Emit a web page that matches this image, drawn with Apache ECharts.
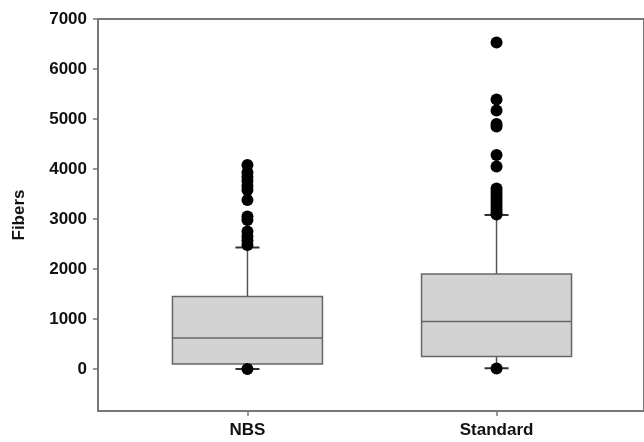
<!DOCTYPE html>
<html>
<head>
<meta charset="utf-8">
<script src="https://cdn.jsdelivr.net/npm/echarts@6/dist/echarts.min.js"></script>
<style>
  html, body { margin: 0; padding: 0; background: #fff; }
  #chart { width: 644px; height: 442px; }
</style>
</head>
<body>
<div id="chart"></div>
<script>
// data
var categories = ['NBS', 'Standard'];
var whiskerLow = [0, 15];
var q1 = [100, 250];
var median = [620, 950];
var q3 = [1450, 1900];
var whiskerHigh = [2430, 3080];
var nbsOutliers = [4080, 3930, 3840, 3760, 3660, 3580, 3380, 3050, 2980, 2750, 2650, 2570, 2480, 0];
var standardOutliers = [6530, 5390, 5170, 4900, 4850, 4280, 4050, 3610, 3540, 3480, 3420, 3360, 3300, 3240, 3180, 3120, 3090, 10];
var yTicks = [0, 1000, 2000, 3000, 4000, 5000, 6000, 7000];

var fontFamily = "'Liberation Sans', Arial, sans-serif";
var axisColor = '#777';

var dom = document.getElementById('chart');
var chart = echarts.init(dom);

// boxes (positions 1, 2 on the x value axis)
var boxData = [];
var whiskerData = [];
for (var i = 0; i < categories.length; i++) {
    boxData.push([i + 1, q1[i], q1[i], median[i], q3[i], q3[i]]);
    whiskerData.push([i + 1, whiskerLow[i], whiskerHigh[i]]);
}
var outlierData = [];
nbsOutliers.forEach(function (v) { outlierData.push([1, v]); });
standardOutliers.forEach(function (v) { outlierData.push([2, v]); });

var option = {
    animation: false,
    backgroundColor: '#fff',
    grid: {
        left: 98,
        top: 19,
        width: 548,
        bottom: 31,
        show: true,
        borderColor: axisColor,
        borderWidth: 2,
        backgroundColor: 'transparent'
    },
    xAxis: {
        type: 'value',
        min: 0.4,
        max: 2.592,
        splitLine: { show: false },
        axisLine: { show: true, onZero: false, lineStyle: { color: axisColor, width: 2 } },
        axisTick: { show: true, customValues: [1, 2], length: 5, lineStyle: { color: axisColor, width: 1.5 } },
        axisLabel: {
            customValues: [1, 2],
            margin: 11,
            color: '#111',
            fontSize: 17,
            fontWeight: 'bold',
            fontFamily: fontFamily,
            formatter: function (v) { return categories[Math.round(v) - 1] || ''; }
        }
    },
    yAxis: {
        type: 'value',
        min: -840,
        max: 7000,
        name: 'Fibers',
        nameLocation: 'middle',
        nameGap: 70,
        nameTextStyle: { color: '#111', fontSize: 17, fontWeight: 'bold', fontFamily: fontFamily },
        splitLine: { show: false },
        axisLine: { show: true, onZero: false, lineStyle: { color: axisColor, width: 2 } },
        axisTick: { show: true, customValues: yTicks, length: 5, lineStyle: { color: axisColor, width: 1.5 } },
        axisLabel: {
            customValues: yTicks,
            margin: 11,
            color: '#111',
            fontSize: 17,
            fontWeight: 'bold',
            fontFamily: fontFamily,
            formatter: function (v) { return String(v); }
        }
    },
    series: [
        {
            name: 'whiskers',
            type: 'custom',
            z: 1,
            data: whiskerData,
            renderItem: function (params, api) {
                var x = api.value(0);
                var lo = api.coord([x, api.value(1)]);
                var hi = api.coord([x, api.value(2)]);
                var cap = 12;
                return {
                    type: 'group',
                    children: [
                        { type: 'line', shape: { x1: lo[0], y1: lo[1], x2: hi[0], y2: hi[1] }, style: { stroke: '#555', lineWidth: 1.5 } },
                        { type: 'line', shape: { x1: lo[0] - cap, y1: lo[1], x2: lo[0] + cap, y2: lo[1] }, style: { stroke: '#333', lineWidth: 2 } },
                        { type: 'line', shape: { x1: hi[0] - cap, y1: hi[1], x2: hi[0] + cap, y2: hi[1] }, style: { stroke: '#333', lineWidth: 2 } }
                    ]
                };
            }
        },
        {
            name: 'box',
            type: 'boxplot',
            z: 2,
            boxWidth: [150, 150],
            itemStyle: { color: '#d3d3d3', borderColor: '#666', borderWidth: 1.5 },
            data: boxData
        },
        {
            name: 'outliers',
            type: 'scatter',
            z: 3,
            symbolSize: 12,
            itemStyle: { color: '#000', opacity: 1 },
            data: outlierData
        }
    ]
};

chart.setOption(option);
</script>
</body>
</html>
